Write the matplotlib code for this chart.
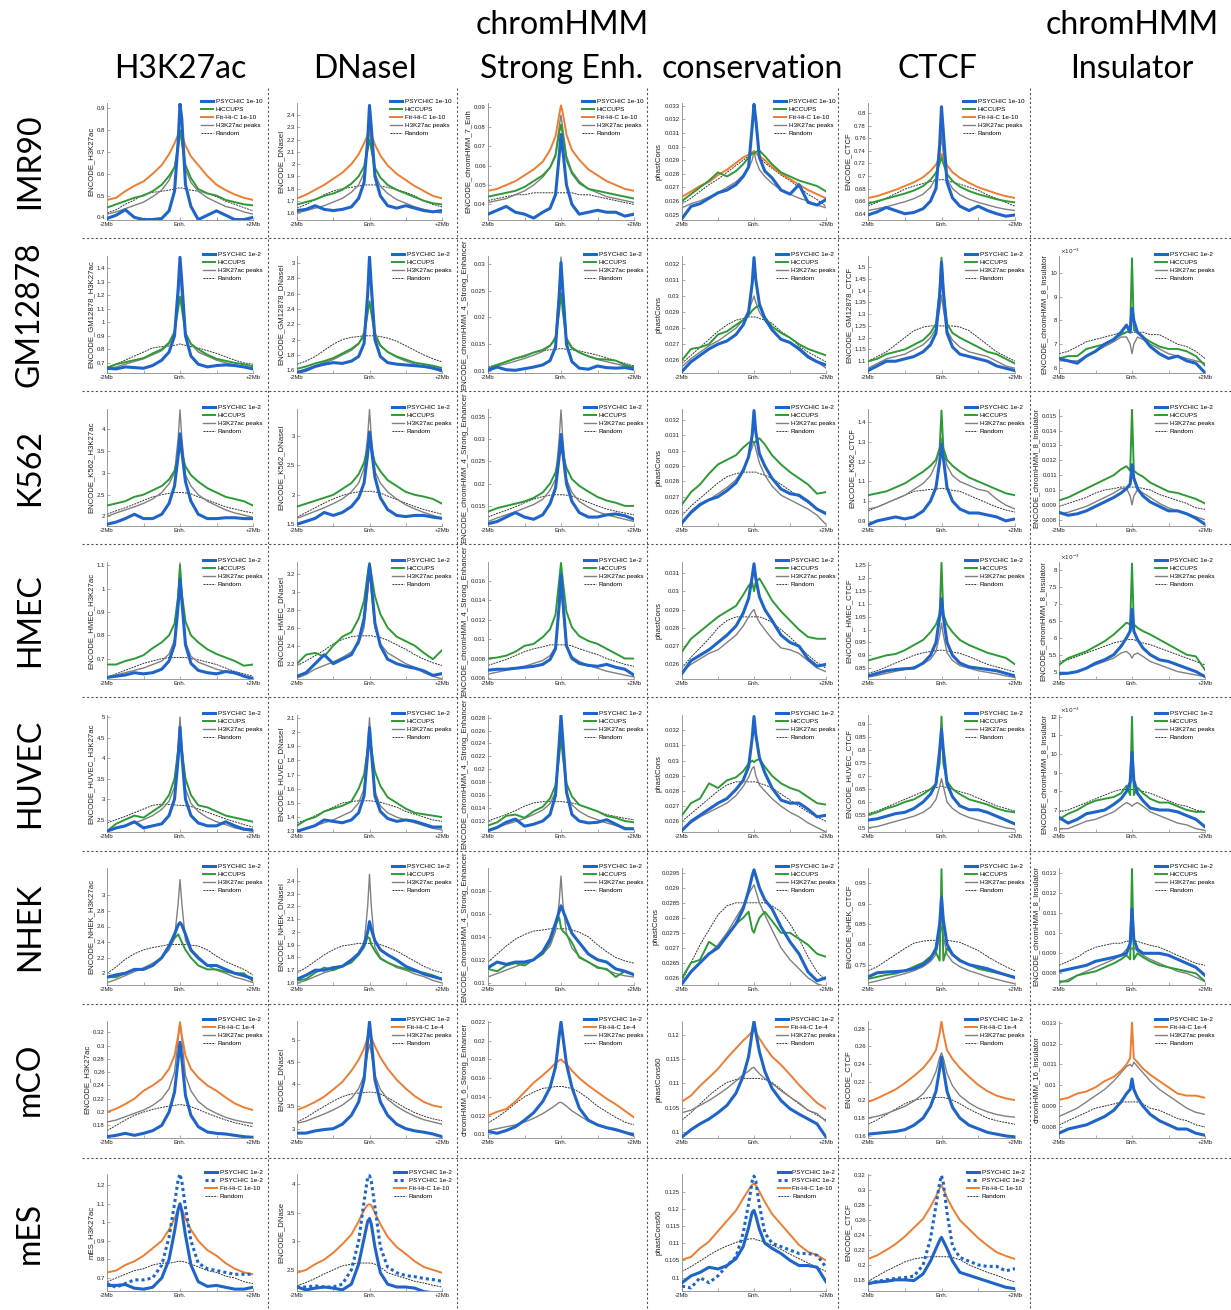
import matplotlib
matplotlib.use("Agg")
import matplotlib.pyplot as plt
from matplotlib.lines import Line2D
from matplotlib.transforms import Bbox, TransformedBbox

plt.rcParams['font.family'] = ['Liberation Sans', 'DejaVu Sans']
plt.rcParams['axes.unicode_minus'] = False

# ---------------- data ----------------
X_MB = [-2, -1.75, -1.5, -1.25, -1, -0.75, -0.5, -0.3, -0.15, -0.05, 0,
        0.05, 0.15, 0.3, 0.5, 0.75, 1, 1.25, 1.5, 1.75, 2]
XTICKS = [-2, -1, 0, 1, 2]
XTICK_LABELS = ['-2Mb', '', 'Enh.', '', '+2Mb']

COL_TITLES = [['H3K27ac'], ['DNaseI'], ['chromHMM', 'Strong Enh.'],
              ['conservation'], ['CTCF'], ['chromHMM', 'Insulator']]
ROW_NAMES = ['IMR90', 'GM12878', 'K562', 'HMEC', 'HUVEC', 'NHEK', 'mCO', 'mES']

NAMES_IMR90 = {'psy': 'PSYCHIC 1e-10', 'hic': 'HiCCUPS', 'fit': 'Fit-Hi-C 1e-10',
               'h3k': 'H3K27ac peaks', 'rnd': 'Random'}
NAMES_HUMAN = {'psy': 'PSYCHIC 1e-2', 'hic': 'HiCCUPS', 'h3k': 'H3K27ac peaks', 'rnd': 'Random'}
NAMES_MCO = {'psy': 'PSYCHIC 1e-2', 'fit': 'Fit-Hi-C 1e-4', 'h3k': 'H3K27ac peaks', 'rnd': 'Random'}
NAMES_MES = {'psy': 'PSYCHIC 1e-2', 'psy2': 'PSYCHIC 1e-2', 'fit': 'Fit-Hi-C 1e-10', 'rnd': 'Random'}
ROW_LEGEND = [NAMES_IMR90, NAMES_HUMAN, NAMES_HUMAN, NAMES_HUMAN, NAMES_HUMAN,
              NAMES_HUMAN, NAMES_MCO, NAMES_MES]

# IMR90
imr90_h3k27ac_psy = [0.395,0.41,0.435,0.40,0.39,0.39,0.395,0.43,0.52,0.75,0.92,0.85,0.55,0.45,0.39,0.41,0.43,0.41,0.39,0.39,0.40]
imr90_h3k27ac_hic = [0.445,0.46,0.475,0.49,0.50,0.52,0.55,0.59,0.63,0.72,0.80,0.75,0.64,0.58,0.53,0.51,0.50,0.48,0.47,0.46,0.455]
imr90_h3k27ac_fit = [0.48,0.49,0.52,0.545,0.565,0.60,0.64,0.69,0.74,0.78,0.79,0.78,0.73,0.68,0.64,0.59,0.55,0.525,0.505,0.49,0.48]
imr90_h3k27ac_h3k = [0.415,0.425,0.44,0.455,0.47,0.495,0.525,0.57,0.63,0.74,0.80,0.74,0.62,0.56,0.52,0.49,0.47,0.45,0.44,0.425,0.415]
imr90_h3k27ac_rnd = [0.42,0.435,0.46,0.48,0.505,0.515,0.52,0.525,0.53,0.535,0.535,0.535,0.53,0.525,0.52,0.51,0.495,0.475,0.46,0.445,0.43]

imr90_dnase_psy = [1.62,1.63,1.66,1.63,1.62,1.63,1.65,1.72,1.85,2.2,2.48,2.3,1.9,1.74,1.66,1.64,1.66,1.64,1.62,1.61,1.62]
imr90_dnase_hic = [1.67,1.69,1.71,1.74,1.76,1.79,1.84,1.9,1.98,2.12,2.2,2.12,1.97,1.89,1.83,1.79,1.76,1.73,1.7,1.68,1.67]
imr90_dnase_fit = [1.72,1.75,1.79,1.83,1.88,1.93,2.0,2.08,2.17,2.24,2.27,2.24,2.16,2.07,1.99,1.92,1.87,1.82,1.78,1.74,1.72]
imr90_dnase_h3k = [1.6,1.62,1.64,1.66,1.69,1.72,1.77,1.83,1.93,2.15,2.3,2.15,1.92,1.82,1.76,1.71,1.68,1.65,1.63,1.61,1.6]
imr90_dnase_rnd = [1.64,1.67,1.71,1.75,1.78,1.8,1.81,1.82,1.83,1.83,1.83,1.83,1.83,1.82,1.81,1.79,1.77,1.74,1.7,1.67,1.65]

imr90_enh_psy = [0.035,0.037,0.039,0.036,0.035,0.033,0.036,0.038,0.045,0.065,0.076,0.068,0.05,0.04,0.035,0.036,0.037,0.036,0.036,0.034,0.035]
imr90_enh_hic = [0.044,0.045,0.046,0.047,0.049,0.052,0.055,0.059,0.065,0.077,0.081,0.076,0.063,0.056,0.051,0.048,0.047,0.046,0.045,0.044,0.043]
imr90_enh_fit = [0.047,0.048,0.05,0.052,0.055,0.058,0.062,0.068,0.075,0.086,0.091,0.087,0.076,0.068,0.063,0.058,0.055,0.052,0.05,0.048,0.047]
imr90_enh_h3k = [0.041,0.042,0.043,0.045,0.047,0.05,0.054,0.059,0.066,0.08,0.086,0.079,0.065,0.057,0.052,0.048,0.046,0.044,0.043,0.042,0.041]
imr90_enh_rnd = [0.042,0.043,0.044,0.045,0.045,0.046,0.046,0.046,0.046,0.046,0.046,0.046,0.046,0.046,0.045,0.045,0.044,0.043,0.042,0.041,0.04]

imr90_cons_psy = [0.0247,0.0256,0.0258,0.0262,0.0266,0.0268,0.0272,0.0278,0.0285,0.0315,0.0331,0.032,0.0292,0.0282,0.0277,0.0268,0.0265,0.0272,0.0259,0.0257,0.0261]
imr90_cons_hic = [0.026,0.0265,0.027,0.0275,0.0281,0.0278,0.0282,0.0287,0.0292,0.0295,0.0295,0.0296,0.0297,0.0293,0.0287,0.0281,0.0278,0.0275,0.0273,0.0271,0.0267]
imr90_cons_fit = [0.0263,0.0267,0.0271,0.0274,0.0279,0.0283,0.0288,0.0292,0.0294,0.0296,0.0296,0.0295,0.0293,0.029,0.0285,0.028,0.0276,0.0272,0.0268,0.0265,0.0262]
imr90_cons_h3k = [0.0255,0.0258,0.026,0.0263,0.0266,0.027,0.0274,0.0279,0.0284,0.029,0.0297,0.029,0.0283,0.0278,0.0273,0.0268,0.0265,0.0262,0.026,0.0257,0.0255]
imr90_cons_rnd = [0.0258,0.0262,0.0267,0.0272,0.0276,0.0281,0.0286,0.029,0.0293,0.0296,0.0297,0.0295,0.0292,0.0288,0.0284,0.0279,0.0275,0.027,0.0265,0.0261,0.0256]

imr90_ctcf_psy = [0.638,0.643,0.65,0.645,0.64,0.642,0.648,0.66,0.68,0.75,0.81,0.77,0.69,0.665,0.652,0.645,0.652,0.645,0.64,0.636,0.638]
imr90_ctcf_hic = [0.656,0.66,0.664,0.668,0.672,0.677,0.684,0.694,0.705,0.72,0.73,0.72,0.703,0.692,0.683,0.676,0.671,0.667,0.663,0.66,0.658]
imr90_ctcf_fit = [0.665,0.668,0.673,0.678,0.684,0.69,0.698,0.708,0.718,0.73,0.735,0.73,0.717,0.706,0.697,0.689,0.682,0.677,0.672,0.668,0.665]
imr90_ctcf_h3k = [0.645,0.648,0.651,0.655,0.659,0.664,0.671,0.682,0.697,0.735,0.765,0.735,0.695,0.68,0.67,0.663,0.658,0.654,0.65,0.647,0.645]
imr90_ctcf_rnd = [0.652,0.658,0.665,0.672,0.679,0.684,0.688,0.691,0.693,0.694,0.694,0.694,0.693,0.69,0.687,0.682,0.677,0.67,0.664,0.658,0.652]

# GM12878
gm_h3k27ac_psy = [0.66,0.655,0.67,0.665,0.66,0.68,0.72,0.78,0.9,1.25,1.48,1.3,0.9,0.75,0.69,0.67,0.68,0.685,0.68,0.67,0.655]
gm_h3k27ac_hic = [0.66,0.69,0.705,0.72,0.735,0.77,0.8,0.85,0.93,1.1,1.19,1.1,0.92,0.84,0.8,0.76,0.73,0.715,0.7,0.69,0.675]
gm_h3k27ac_h3k = [0.65,0.67,0.69,0.71,0.73,0.76,0.79,0.84,0.92,1.15,1.4,1.15,0.92,0.84,0.78,0.75,0.72,0.7,0.685,0.67,0.66]
gm_h3k27ac_rnd = [0.67,0.69,0.72,0.75,0.78,0.81,0.82,0.825,0.83,0.835,0.84,0.835,0.83,0.82,0.81,0.79,0.77,0.745,0.72,0.7,0.69]

gm_dnase_psy = [1.57,1.6,1.65,1.68,1.7,1.69,1.72,1.78,1.95,2.6,3.08,2.7,2.0,1.78,1.7,1.68,1.67,1.66,1.65,1.63,1.6]
gm_dnase_hic = [1.62,1.65,1.69,1.72,1.76,1.82,1.88,1.95,2.05,2.35,2.5,2.35,2.05,1.92,1.84,1.78,1.74,1.7,1.68,1.66,1.63]
gm_dnase_h3k = [1.58,1.62,1.66,1.7,1.74,1.8,1.86,1.94,2.1,2.6,2.95,2.6,2.1,1.93,1.84,1.77,1.72,1.68,1.65,1.62,1.58]
gm_dnase_rnd = [1.68,1.72,1.78,1.86,1.94,2.0,2.03,2.04,2.05,2.05,2.05,2.05,2.05,2.04,2.02,1.98,1.92,1.86,1.8,1.75,1.71]

gm_enh_psy = [0.0102,0.0108,0.0103,0.0102,0.0105,0.0108,0.0112,0.012,0.0145,0.024,0.0302,0.025,0.015,0.0118,0.0106,0.0104,0.011,0.0107,0.0106,0.0107,0.0104]
gm_enh_hic = [0.0105,0.0112,0.0118,0.0124,0.0128,0.0135,0.014,0.0148,0.016,0.021,0.0245,0.021,0.0158,0.0143,0.0135,0.0128,0.0123,0.0122,0.012,0.0112,0.0108]
gm_enh_h3k = [0.0104,0.011,0.0114,0.0119,0.0124,0.013,0.0137,0.0147,0.0165,0.025,0.0312,0.025,0.0163,0.0145,0.0136,0.0128,0.0122,0.0118,0.0114,0.011,0.0106]
gm_enh_rnd = [0.0108,0.0113,0.0118,0.0124,0.013,0.0135,0.0138,0.014,0.0141,0.0142,0.0142,0.0142,0.0141,0.014,0.0138,0.0134,0.013,0.0125,0.012,0.0115,0.011]

gm_cons_psy = [0.0253,0.0259,0.0263,0.0267,0.027,0.0272,0.0276,0.0282,0.029,0.0308,0.0324,0.031,0.0295,0.0286,0.0279,0.0273,0.0271,0.0267,0.0262,0.0259,0.0257]
gm_cons_hic = [0.026,0.0267,0.0268,0.027,0.0276,0.0278,0.0282,0.0285,0.0288,0.0291,0.0292,0.0293,0.0294,0.0287,0.0281,0.0277,0.0274,0.027,0.0267,0.0265,0.0263]
gm_cons_h3k = [0.0256,0.0261,0.0265,0.0269,0.0272,0.0276,0.028,0.0285,0.0291,0.0297,0.03,0.0296,0.029,0.0285,0.0279,0.0273,0.0271,0.0268,0.0263,0.0259,0.0255]
gm_cons_rnd = [0.0258,0.0263,0.0268,0.0273,0.0278,0.0282,0.0285,0.0286,0.0287,0.0287,0.0287,0.0287,0.0286,0.0285,0.0283,0.0278,0.0274,0.0269,0.0265,0.0262,0.0259]

gm_ctcf_psy = [1.06,1.08,1.1,1.1,1.11,1.12,1.14,1.17,1.22,1.38,1.52,1.4,1.22,1.16,1.13,1.12,1.11,1.1,1.08,1.07,1.06]
gm_ctcf_hic = [1.1,1.11,1.13,1.14,1.15,1.17,1.19,1.22,1.26,1.4,1.54,1.4,1.26,1.22,1.2,1.18,1.16,1.14,1.13,1.11,1.09]
gm_ctcf_h3k = [1.07,1.09,1.11,1.12,1.13,1.15,1.17,1.2,1.24,1.32,1.38,1.32,1.23,1.19,1.16,1.14,1.13,1.12,1.1,1.08,1.07]
gm_ctcf_rnd = [1.1,1.12,1.14,1.17,1.2,1.23,1.245,1.25,1.25,1.25,1.25,1.25,1.25,1.25,1.245,1.23,1.2,1.17,1.14,1.12,1.1]

# values in units of 1e-3
gm_ins_psy = [6.4,6.3,6.2,6.5,6.7,7.0,7.2,7.5,7.8,7.5,8.5,8.0,7.5,7.3,6.9,6.6,6.4,6.5,6.3,6.2,5.8]
gm_ins_hic = [6.4,6.5,6.5,6.8,6.9,7.0,7.2,7.4,7.5,7.6,10.6,7.6,7.5,7.3,7.1,6.9,6.8,6.8,6.7,6.5,6.1]
gm_ins_h3k = [6.3,6.3,6.3,6.5,6.7,6.9,7.1,7.3,7.3,7.0,6.6,7.0,7.3,7.2,7.0,6.8,6.6,6.5,6.4,6.3,6.2]
gm_ins_rnd = [6.6,6.7,6.9,7.1,7.2,7.3,7.4,7.5,7.5,7.5,7.5,7.5,7.5,7.5,7.4,7.4,7.2,7.0,6.9,6.7,6.4]

# K562
k562_h3k27ac_psy = [1.82,1.87,1.95,2.05,1.95,1.95,2.05,2.3,2.7,3.4,3.9,3.5,2.8,2.35,2.05,1.95,1.95,1.97,1.97,1.95,1.95]
k562_h3k27ac_hic = [2.25,2.3,2.35,2.45,2.5,2.6,2.7,2.85,3.05,3.4,3.6,3.45,3.15,2.95,2.8,2.65,2.55,2.45,2.4,2.35,2.25]
k562_h3k27ac_h3k = [2.0,2.08,2.15,2.22,2.3,2.4,2.55,2.75,3.0,3.8,4.45,3.8,2.95,2.7,2.5,2.35,2.25,2.15,2.08,2.03,1.98]
k562_h3k27ac_rnd = [2.05,2.13,2.2,2.28,2.37,2.45,2.5,2.53,2.55,2.55,2.55,2.55,2.54,2.52,2.45,2.38,2.3,2.22,2.17,2.12,2.08]

k562_dnase_psy = [1.5,1.55,1.6,1.7,1.65,1.7,1.8,1.95,2.2,2.7,3.07,2.8,2.3,1.95,1.75,1.65,1.63,1.65,1.65,1.62,1.6]
k562_dnase_hic = [1.8,1.85,1.9,1.95,2.0,2.1,2.2,2.35,2.55,2.8,2.9,2.8,2.55,2.4,2.25,2.15,2.05,2.0,1.97,1.93,1.85]
k562_dnase_h3k = [1.6,1.66,1.72,1.78,1.85,1.93,2.05,2.2,2.45,3.0,3.45,3.0,2.4,2.2,2.05,1.93,1.83,1.76,1.7,1.65,1.6]
k562_dnase_rnd = [1.62,1.7,1.78,1.86,1.93,1.99,2.03,2.05,2.06,2.06,2.06,2.06,2.05,2.03,1.98,1.92,1.86,1.8,1.75,1.71,1.67]

k562_enh_psy = [0.011,0.0115,0.0125,0.0135,0.0125,0.012,0.013,0.0155,0.019,0.026,0.031,0.027,0.02,0.016,0.0135,0.0125,0.0125,0.013,0.0132,0.0128,0.012]
k562_enh_hic = [0.0137,0.0145,0.015,0.0155,0.016,0.0168,0.018,0.02,0.0225,0.0265,0.0275,0.0265,0.0235,0.021,0.0195,0.0182,0.017,0.0162,0.0157,0.015,0.015]
k562_enh_h3k = [0.0115,0.0123,0.013,0.0137,0.0145,0.0153,0.0165,0.0185,0.021,0.03,0.0365,0.03,0.021,0.018,0.016,0.0147,0.0137,0.013,0.0125,0.012,0.0115]
k562_enh_rnd = [0.0125,0.0133,0.014,0.0148,0.0157,0.0165,0.0171,0.0174,0.0175,0.0175,0.0175,0.0175,0.0174,0.0172,0.0166,0.0158,0.015,0.0143,0.0138,0.0134,0.013]

k562_cons_psy = [0.0253,0.026,0.0265,0.0268,0.027,0.0274,0.0279,0.0287,0.0296,0.031,0.0326,0.0312,0.0298,0.029,0.0282,0.0275,0.0272,0.0271,0.0267,0.0262,0.0259]
k562_cons_hic = [0.0265,0.0273,0.0278,0.0285,0.0291,0.0294,0.0297,0.0302,0.0305,0.0306,0.0305,0.0306,0.0308,0.0304,0.0297,0.0291,0.0286,0.0282,0.0278,0.0272,0.0273]
k562_cons_h3k = [0.0254,0.0259,0.0264,0.0268,0.0272,0.0276,0.0281,0.0288,0.0296,0.0302,0.0306,0.0301,0.0292,0.0284,0.0277,0.0271,0.0268,0.0265,0.0262,0.0258,0.0252]
k562_cons_rnd = [0.0258,0.0264,0.0269,0.0274,0.0279,0.0283,0.0285,0.0286,0.0286,0.0286,0.0286,0.0286,0.0285,0.0284,0.0282,0.0278,0.0274,0.027,0.0266,0.0262,0.026]

k562_ctcf_psy = [0.88,0.9,0.91,0.92,0.91,0.92,0.95,1.0,1.07,1.2,1.29,1.22,1.07,1.0,0.96,0.94,0.94,0.93,0.92,0.9,0.91]
k562_ctcf_hic = [1.03,1.04,1.05,1.07,1.09,1.12,1.15,1.18,1.21,1.27,1.46,1.27,1.21,1.18,1.15,1.12,1.1,1.08,1.06,1.04,1.03]
k562_ctcf_h3k = [0.96,0.97,0.99,1.01,1.03,1.06,1.09,1.13,1.19,1.27,1.32,1.27,1.18,1.13,1.1,1.08,1.06,1.05,1.01,0.98,0.96]
k562_ctcf_rnd = [0.95,0.97,0.99,1.01,1.03,1.05,1.055,1.06,1.06,1.065,1.065,1.065,1.06,1.055,1.05,1.03,1.01,0.99,0.97,0.955,0.945]

k562_ins_psy = [0.0085,0.0083,0.0084,0.0086,0.0089,0.0092,0.0095,0.0098,0.0101,0.0104,0.0117,0.0108,0.0101,0.0096,0.0092,0.0089,0.0086,0.0086,0.0084,0.0081,0.0077]
k562_ins_hic = [0.0093,0.0095,0.0098,0.0101,0.0104,0.0107,0.011,0.0114,0.0116,0.0113,0.0154,0.0113,0.0111,0.0109,0.0105,0.0102,0.0099,0.0098,0.0096,0.0094,0.0091]
k562_ins_h3k = [0.0084,0.0085,0.0087,0.0089,0.0092,0.0095,0.0098,0.0101,0.0101,0.0096,0.009,0.0096,0.01,0.0098,0.0095,0.0091,0.0088,0.0086,0.0084,0.0082,0.008]
k562_ins_rnd = [0.0089,0.0091,0.0093,0.0095,0.0098,0.01,0.0101,0.0102,0.0102,0.0102,0.0102,0.0102,0.0102,0.0101,0.01,0.0097,0.0095,0.0093,0.0091,0.0088,0.0087]

# HMEC
hmec_h3k27ac_psy = [0.62,0.625,0.63,0.64,0.635,0.64,0.655,0.69,0.76,0.93,1.04,0.95,0.76,0.68,0.65,0.64,0.635,0.645,0.64,0.625,0.615]
hmec_h3k27ac_hic = [0.675,0.675,0.69,0.7,0.715,0.745,0.77,0.8,0.85,0.97,1.1,0.98,0.86,0.8,0.77,0.74,0.72,0.705,0.69,0.67,0.675]
hmec_h3k27ac_h3k = [0.62,0.63,0.64,0.65,0.66,0.675,0.69,0.72,0.78,0.97,1.11,0.96,0.77,0.71,0.685,0.67,0.655,0.645,0.635,0.625,0.615]
hmec_h3k27ac_rnd = [0.62,0.635,0.65,0.665,0.68,0.69,0.7,0.705,0.705,0.705,0.705,0.705,0.705,0.7,0.695,0.685,0.675,0.66,0.645,0.635,0.625]

hmec_dnase_psy = [2.06,2.1,2.2,2.3,2.2,2.25,2.3,2.45,2.7,3.1,3.3,3.1,2.65,2.4,2.25,2.2,2.17,2.15,2.12,2.07,2.09]
hmec_dnase_hic = [2.2,2.3,2.32,2.28,2.4,2.5,2.55,2.7,2.9,3.2,3.32,3.2,2.95,2.75,2.6,2.5,2.45,2.4,2.32,2.25,2.35]
hmec_dnase_h3k = [2.04,2.08,2.14,2.18,2.22,2.27,2.33,2.42,2.6,3.0,3.25,3.0,2.6,2.42,2.32,2.26,2.2,2.16,2.1,2.06,2.03]
hmec_dnase_rnd = [2.18,2.23,2.29,2.35,2.42,2.47,2.5,2.51,2.51,2.51,2.51,2.51,2.5,2.49,2.46,2.41,2.36,2.3,2.25,2.21,2.18]

hmec_enh_psy = [0.0068,0.0069,0.0069,0.007,0.0071,0.0072,0.0074,0.0079,0.009,0.0135,0.0166,0.014,0.0093,0.008,0.0075,0.0073,0.0072,0.0074,0.0071,0.0069,0.0063]
hmec_enh_hic = [0.008,0.0081,0.0083,0.0087,0.0093,0.0095,0.0102,0.011,0.0125,0.016,0.0178,0.016,0.0128,0.0112,0.0103,0.0098,0.0095,0.009,0.0085,0.008,0.008]
hmec_enh_h3k = [0.0064,0.0066,0.0068,0.007,0.0072,0.0075,0.0078,0.0083,0.0092,0.013,0.0165,0.013,0.0092,0.0082,0.0077,0.0073,0.007,0.0067,0.0065,0.0063,0.0061]
hmec_enh_rnd = [0.0073,0.0076,0.0079,0.0083,0.0087,0.009,0.0092,0.0094,0.0094,0.0094,0.0094,0.0094,0.0094,0.0093,0.009,0.0087,0.0084,0.008,0.0077,0.0074,0.0072]

hmec_cons_psy = [0.0255,0.0262,0.0265,0.0268,0.0272,0.0276,0.0281,0.0288,0.0296,0.0308,0.0315,0.0307,0.0297,0.029,0.0284,0.0276,0.0272,0.027,0.0263,0.0259,0.026]
hmec_cons_hic = [0.0267,0.0274,0.0278,0.0282,0.0286,0.0289,0.0292,0.0298,0.0303,0.0305,0.03,0.0305,0.0307,0.0302,0.0295,0.0289,0.0284,0.0279,0.0275,0.0274,0.0274]
hmec_cons_h3k = [0.0256,0.026,0.0263,0.0266,0.0268,0.0272,0.0276,0.0281,0.0286,0.0289,0.029,0.0287,0.0283,0.0279,0.0274,0.0269,0.0268,0.0266,0.0262,0.0258,0.0256]
hmec_cons_rnd = [0.0258,0.0264,0.0269,0.0274,0.028,0.0284,0.0286,0.0286,0.0286,0.0286,0.0286,0.0286,0.0286,0.0285,0.0283,0.0279,0.0275,0.027,0.0265,0.0261,0.0258]

hmec_ctcf_psy = [0.82,0.83,0.84,0.845,0.848,0.85,0.87,0.9,0.95,1.05,1.12,1.05,0.95,0.9,0.87,0.855,0.85,0.845,0.84,0.83,0.82]
hmec_ctcf_hic = [0.88,0.89,0.9,0.905,0.92,0.94,0.96,0.99,1.02,1.06,1.26,1.06,1.02,0.99,0.96,0.94,0.925,0.91,0.9,0.89,0.865]
hmec_ctcf_h3k = [0.815,0.822,0.83,0.838,0.845,0.855,0.867,0.885,0.915,0.98,1.025,0.98,0.91,0.88,0.86,0.85,0.84,0.834,0.828,0.82,0.814]
hmec_ctcf_rnd = [0.83,0.84,0.855,0.87,0.885,0.9,0.91,0.915,0.918,0.92,0.92,0.92,0.917,0.913,0.908,0.895,0.88,0.865,0.855,0.845,0.835]

# values in units of 1e-3
hmec_ins_psy = [4.95,4.95,5.0,5.1,5.25,5.35,5.5,5.75,6.0,6.2,6.85,6.2,5.95,5.7,5.5,5.35,5.3,5.2,5.1,5.0,4.85]
hmec_ins_hic = [5.2,5.4,5.5,5.6,5.75,5.9,6.1,6.3,6.45,6.4,8.2,6.4,6.3,6.2,6.1,5.95,5.8,5.65,5.5,5.45,5.05]
hmec_ins_h3k = [4.9,4.95,5.0,5.1,5.2,5.3,5.4,5.55,5.6,5.5,5.4,5.5,5.55,5.45,5.3,5.2,5.1,5.0,4.95,4.9,4.85]
hmec_ins_rnd = [5.3,5.35,5.45,5.55,5.65,5.75,5.85,5.9,5.95,5.95,5.95,5.95,5.9,5.85,5.8,5.7,5.6,5.5,5.4,5.3,5.2]

# HUVEC
huvec_h3k27ac_psy = [2.22,2.3,2.35,2.45,2.3,2.35,2.4,2.6,3.0,4.0,4.75,4.1,3.0,2.6,2.42,2.35,2.35,2.45,2.35,2.27,2.25]
huvec_h3k27ac_hic = [2.22,2.4,2.5,2.6,2.55,2.7,2.85,3.1,3.5,4.2,4.6,4.2,3.5,3.1,2.85,2.8,2.7,2.6,2.55,2.5,2.45]
huvec_h3k27ac_h3k = [2.22,2.28,2.35,2.42,2.5,2.6,2.75,2.95,3.3,4.3,5.0,4.3,3.25,2.9,2.7,2.55,2.45,2.38,2.3,2.25,2.22]
huvec_h3k27ac_rnd = [2.42,2.5,2.58,2.67,2.76,2.85,2.88,2.87,2.86,2.85,2.85,2.85,2.84,2.82,2.76,2.68,2.6,2.52,2.45,2.38,2.32]

huvec_dnase_psy = [1.3,1.32,1.34,1.38,1.37,1.36,1.38,1.43,1.55,1.85,2.03,1.87,1.55,1.44,1.39,1.37,1.38,1.37,1.35,1.33,1.33]
huvec_dnase_hic = [1.34,1.38,1.4,1.44,1.46,1.48,1.51,1.6,1.7,1.88,1.95,1.88,1.72,1.62,1.54,1.5,1.46,1.43,1.42,1.41,1.4]
huvec_dnase_h3k = [1.3,1.32,1.34,1.36,1.38,1.41,1.44,1.5,1.6,1.9,2.1,1.9,1.58,1.48,1.43,1.4,1.38,1.36,1.34,1.32,1.31]
huvec_dnase_rnd = [1.36,1.38,1.41,1.44,1.47,1.5,1.51,1.515,1.515,1.515,1.515,1.515,1.51,1.505,1.49,1.47,1.44,1.42,1.4,1.38,1.37]

huvec_enh_psy = [0.0105,0.011,0.0118,0.0123,0.0112,0.0115,0.012,0.013,0.016,0.024,0.0283,0.0245,0.0165,0.013,0.012,0.0117,0.0118,0.0122,0.0115,0.0108,0.0108]
huvec_enh_hic = [0.0113,0.0118,0.0128,0.013,0.0125,0.0135,0.0142,0.0155,0.0175,0.022,0.025,0.022,0.0178,0.0158,0.0145,0.014,0.0135,0.0128,0.0125,0.012,0.0118]
huvec_enh_h3k = [0.0106,0.011,0.0115,0.0119,0.0124,0.013,0.0137,0.0147,0.0165,0.023,0.0283,0.023,0.0163,0.0145,0.0135,0.0127,0.0122,0.0117,0.0113,0.011,0.0107]
huvec_enh_rnd = [0.012,0.0125,0.013,0.0136,0.0143,0.0148,0.015,0.015,0.015,0.015,0.015,0.015,0.0149,0.0148,0.0145,0.014,0.0135,0.013,0.0127,0.0124,0.0122]

huvec_cons_psy = [0.0254,0.026,0.0264,0.0268,0.0272,0.0275,0.0281,0.0287,0.0296,0.0315,0.0329,0.0317,0.0302,0.0292,0.0282,0.0274,0.0272,0.0272,0.0268,0.0263,0.0264]
huvec_cons_hic = [0.0264,0.0272,0.0275,0.0285,0.0282,0.0287,0.0289,0.0293,0.0298,0.03,0.0299,0.03,0.0301,0.0296,0.029,0.0285,0.0282,0.028,0.0276,0.0272,0.0271]
huvec_cons_h3k = [0.0255,0.0259,0.0263,0.0266,0.0269,0.0272,0.0277,0.0283,0.0289,0.0295,0.0296,0.029,0.0284,0.028,0.0275,0.027,0.0266,0.0263,0.0259,0.0256,0.0253]
huvec_cons_rnd = [0.026,0.0265,0.027,0.0275,0.028,0.0284,0.0286,0.0286,0.0286,0.0286,0.0286,0.0286,0.0285,0.0284,0.0282,0.0278,0.0274,0.027,0.0266,0.0263,0.026]

huvec_ctcf_psy = [0.53,0.535,0.545,0.555,0.56,0.575,0.6,0.63,0.67,0.8,0.88,0.8,0.67,0.62,0.585,0.57,0.57,0.56,0.545,0.53,0.515]
huvec_ctcf_hic = [0.55,0.56,0.575,0.585,0.6,0.61,0.63,0.65,0.67,0.75,0.93,0.75,0.68,0.65,0.63,0.61,0.6,0.59,0.575,0.565,0.56]
huvec_ctcf_h3k = [0.5,0.505,0.515,0.525,0.535,0.545,0.56,0.58,0.61,0.66,0.69,0.66,0.6,0.575,0.555,0.54,0.53,0.52,0.51,0.5,0.495]
huvec_ctcf_rnd = [0.555,0.565,0.58,0.595,0.61,0.625,0.64,0.65,0.655,0.66,0.66,0.66,0.655,0.65,0.64,0.63,0.615,0.6,0.585,0.575,0.565]

# values in units of 1e-3
huvec_ins_psy = [6.6,6.3,6.5,6.8,6.9,7.0,7.3,7.6,8.0,8.5,10.1,8.6,7.9,7.5,7.1,7.0,7.0,6.9,6.7,6.5,6.1]
huvec_ins_hic = [6.5,6.8,7.0,7.3,7.5,7.6,7.7,7.9,8.3,7.8,12.0,7.8,8.2,7.9,7.6,7.4,7.4,7.2,7.0,6.9,6.9]
huvec_ins_h3k = [6.0,6.0,6.2,6.4,6.5,6.7,6.9,7.2,7.4,7.3,7.2,7.3,7.4,7.2,6.9,6.7,6.5,6.3,6.2,6.0,5.9]
huvec_ins_rnd = [6.9,7.0,7.2,7.4,7.6,7.8,8.0,8.1,8.1,8.1,8.1,8.1,8.1,8.0,7.9,7.7,7.5,7.3,7.2,7.0,6.9]

# NHEK
nhek_h3k27ac_psy = [1.95,1.98,2.0,2.05,2.05,2.1,2.2,2.35,2.5,2.62,2.65,2.62,2.5,2.3,2.2,2.1,2.1,2.05,2.0,1.97,1.93]
nhek_h3k27ac_hic = [1.95,1.95,2.0,2.05,2.05,2.1,2.2,2.35,2.45,2.5,2.45,2.4,2.3,2.2,2.1,2.05,2.05,2.02,2.0,2.0,1.9]
nhek_h3k27ac_h3k = [1.88,1.92,1.97,2.02,2.07,2.13,2.2,2.3,2.45,2.9,3.2,2.9,2.42,2.28,2.18,2.1,2.04,2.0,1.95,1.92,1.88]
nhek_h3k27ac_rnd = [2.0,2.08,2.18,2.25,2.3,2.33,2.35,2.37,2.37,2.37,2.37,2.37,2.37,2.36,2.35,2.3,2.22,2.15,2.1,2.05,1.98]

nhek_dnase_psy = [1.63,1.66,1.7,1.7,1.72,1.73,1.78,1.83,1.9,2.0,2.08,2.02,1.93,1.86,1.82,1.78,1.73,1.7,1.67,1.65,1.63]
nhek_dnase_hic = [1.62,1.63,1.68,1.72,1.7,1.73,1.76,1.82,1.88,1.96,1.95,1.9,1.85,1.79,1.76,1.73,1.71,1.69,1.68,1.66,1.63]
nhek_dnase_h3k = [1.6,1.62,1.65,1.68,1.7,1.73,1.77,1.82,1.9,2.2,2.45,2.2,1.88,1.8,1.76,1.72,1.7,1.67,1.65,1.62,1.6]
nhek_dnase_rnd = [1.68,1.72,1.77,1.82,1.86,1.89,1.9,1.91,1.91,1.91,1.91,1.91,1.91,1.9,1.88,1.85,1.81,1.77,1.73,1.7,1.68]

nhek_enh_psy = [0.0113,0.0118,0.0116,0.0118,0.0118,0.012,0.0127,0.0138,0.0152,0.0162,0.0167,0.0163,0.0155,0.0143,0.0135,0.0125,0.012,0.0118,0.0112,0.011,0.0107]
nhek_enh_hic = [0.0112,0.011,0.0115,0.0117,0.0115,0.012,0.0125,0.0135,0.015,0.0157,0.0148,0.0145,0.0142,0.0135,0.0122,0.0118,0.0113,0.0112,0.0105,0.011,0.0107]
nhek_enh_h3k = [0.0105,0.0108,0.0111,0.0114,0.0117,0.012,0.0125,0.0132,0.0145,0.017,0.0193,0.017,0.0143,0.013,0.0123,0.0118,0.0114,0.0111,0.0108,0.0106,0.0105]
nhek_enh_rnd = [0.0118,0.0125,0.0132,0.0138,0.0142,0.0145,0.0146,0.0147,0.0147,0.0147,0.0147,0.0147,0.0147,0.0146,0.0144,0.014,0.0133,0.0127,0.0122,0.0119,0.0117]

nhek_cons_psy = [0.0258,0.0262,0.0265,0.0268,0.027,0.0274,0.0278,0.0283,0.0289,0.0294,0.0296,0.0294,0.029,0.0286,0.0283,0.0277,0.0272,0.0268,0.0262,0.0259,0.026]
nhek_cons_hic = [0.026,0.0265,0.0266,0.0272,0.027,0.0274,0.0278,0.028,0.0282,0.0276,0.0275,0.0277,0.028,0.0282,0.0279,0.0275,0.0275,0.0273,0.0271,0.0268,0.0267]
nhek_cons_h3k = [0.0258,0.0262,0.0265,0.0268,0.0271,0.0275,0.028,0.0284,0.0288,0.029,0.0291,0.0289,0.0285,0.0281,0.0276,0.027,0.0266,0.0263,0.026,0.0258,0.0257]
nhek_cons_rnd = [0.0259,0.0265,0.0271,0.0276,0.0281,0.0284,0.0285,0.0285,0.0285,0.0285,0.0285,0.0285,0.0285,0.0285,0.0284,0.0282,0.0278,0.0273,0.0267,0.0262,0.0259]

nhek_ctcf_psy = [0.72,0.73,0.732,0.733,0.735,0.74,0.75,0.765,0.79,0.85,0.915,0.86,0.8,0.775,0.76,0.75,0.745,0.74,0.732,0.725,0.718]
nhek_ctcf_hic = [0.715,0.72,0.725,0.728,0.735,0.745,0.755,0.77,0.78,0.76,0.985,0.76,0.79,0.775,0.762,0.75,0.74,0.735,0.73,0.725,0.72]
nhek_ctcf_h3k = [0.705,0.71,0.716,0.722,0.728,0.735,0.745,0.758,0.775,0.82,0.845,0.82,0.775,0.757,0.745,0.735,0.728,0.72,0.714,0.708,0.703]
nhek_ctcf_rnd = [0.735,0.745,0.76,0.775,0.79,0.803,0.808,0.81,0.81,0.81,0.81,0.81,0.81,0.808,0.805,0.795,0.785,0.77,0.757,0.745,0.735]

nhek_ins_psy = [0.0081,0.0082,0.0083,0.0084,0.0086,0.0087,0.0088,0.0089,0.009,0.0095,0.0112,0.0097,0.0092,0.009,0.009,0.009,0.0089,0.0087,0.0085,0.0083,0.0079]
nhek_ins_hic = [0.0076,0.0076,0.0079,0.008,0.0081,0.0083,0.0085,0.0087,0.0089,0.0087,0.0132,0.0087,0.009,0.0088,0.0086,0.0084,0.0083,0.0082,0.0081,0.008,0.0076]
nhek_ins_h3k = [0.0075,0.0077,0.0079,0.0081,0.0083,0.0085,0.0087,0.0089,0.0092,0.0093,0.0092,0.0093,0.0091,0.0089,0.0087,0.0085,0.0083,0.0081,0.008,0.0078,0.0076]
nhek_ins_rnd = [0.0084,0.0086,0.0088,0.0091,0.0093,0.0094,0.0095,0.0095,0.0096,0.0096,0.0096,0.0096,0.0096,0.0095,0.0094,0.0093,0.0091,0.0089,0.0087,0.0085,0.0084]

# mCO
mco_h3k27ac_psy = [0.163,0.165,0.168,0.165,0.168,0.172,0.18,0.2,0.23,0.28,0.305,0.28,0.225,0.195,0.178,0.17,0.168,0.167,0.165,0.163,0.162]
mco_h3k27ac_fit = [0.2,0.205,0.212,0.22,0.232,0.24,0.25,0.265,0.285,0.315,0.335,0.315,0.285,0.265,0.252,0.24,0.232,0.222,0.213,0.207,0.203]
mco_h3k27ac_h3k = [0.185,0.188,0.193,0.198,0.203,0.21,0.22,0.235,0.26,0.31,0.335,0.31,0.255,0.232,0.216,0.205,0.198,0.192,0.188,0.185,0.183]
mco_h3k27ac_rnd = [0.172,0.18,0.188,0.195,0.2,0.204,0.207,0.209,0.21,0.211,0.211,0.211,0.21,0.208,0.204,0.198,0.193,0.188,0.184,0.181,0.178]

mco_dnase_psy = [2.9,2.9,2.95,2.98,3.0,3.1,3.3,3.6,4.1,5.0,5.4,5.0,4.1,3.6,3.3,3.1,3.0,2.95,2.92,2.88,2.82]
mco_dnase_fit = [3.42,3.5,3.6,3.72,3.88,4.05,4.3,4.55,4.8,5.05,5.15,5.05,4.85,4.6,4.35,4.1,3.9,3.73,3.6,3.52,3.48]
mco_dnase_h3k = [3.12,3.17,3.25,3.33,3.42,3.53,3.68,3.9,4.2,4.7,4.9,4.7,4.2,3.88,3.66,3.5,3.38,3.28,3.2,3.15,3.1]
mco_dnase_rnd = [3.15,3.25,3.38,3.5,3.62,3.72,3.78,3.8,3.81,3.82,3.82,3.82,3.81,3.78,3.7,3.58,3.46,3.36,3.28,3.22,3.18]

mco_enh_psy = [0.0103,0.0101,0.0104,0.0108,0.0115,0.0123,0.0135,0.015,0.0172,0.0205,0.022,0.0205,0.0175,0.015,0.0128,0.0115,0.011,0.0107,0.0105,0.0102,0.0099]
mco_enh_fit = [0.012,0.0124,0.0127,0.0135,0.0145,0.0155,0.0163,0.017,0.0176,0.0179,0.018,0.0178,0.0175,0.0168,0.016,0.0152,0.0145,0.0138,0.0132,0.0125,0.0118]
mco_enh_h3k = [0.0104,0.0106,0.0108,0.011,0.0113,0.0117,0.0122,0.0127,0.0131,0.0134,0.0134,0.0133,0.013,0.0125,0.012,0.0114,0.011,0.0107,0.0104,0.0102,0.0101]
mco_enh_rnd = [0.0112,0.0118,0.0125,0.0133,0.014,0.0145,0.0149,0.015,0.0151,0.0151,0.0151,0.0151,0.015,0.0149,0.0145,0.0138,0.013,0.0124,0.0118,0.0113,0.011]

mco_cons_psy = [0.099,0.1005,0.1017,0.1027,0.104,0.1055,0.108,0.1115,0.1155,0.1205,0.1227,0.1205,0.1165,0.1125,0.109,0.1065,0.1048,0.1037,0.1027,0.1017,0.099]
mco_cons_fit = [0.1063,0.1075,0.1095,0.1112,0.113,0.1152,0.1172,0.1188,0.1198,0.1207,0.121,0.1205,0.1192,0.1175,0.1155,0.1138,0.1118,0.1097,0.1078,0.106,0.1048]
mco_cons_h3k = [0.104,0.1045,0.1055,0.1065,0.1077,0.109,0.1105,0.1118,0.1125,0.1132,0.1133,0.1128,0.112,0.111,0.11,0.1085,0.1072,0.106,0.1045,0.1038,0.1022]
mco_cons_rnd = [0.1025,0.104,0.1058,0.1075,0.109,0.1102,0.1108,0.111,0.111,0.111,0.111,0.111,0.111,0.1108,0.1102,0.1088,0.1072,0.1058,0.1045,0.1035,0.1025]

mco_ctcf_psy = [0.162,0.163,0.164,0.165,0.167,0.172,0.18,0.193,0.21,0.235,0.248,0.235,0.21,0.192,0.18,0.172,0.168,0.164,0.162,0.16,0.159]
mco_ctcf_fit = [0.198,0.202,0.207,0.212,0.219,0.227,0.236,0.246,0.256,0.275,0.288,0.275,0.256,0.246,0.236,0.226,0.217,0.21,0.205,0.202,0.2]
mco_ctcf_h3k = [0.18,0.182,0.185,0.189,0.193,0.199,0.207,0.218,0.232,0.248,0.253,0.247,0.23,0.216,0.205,0.197,0.191,0.187,0.184,0.182,0.181]
mco_ctcf_rnd = [0.173,0.178,0.184,0.19,0.196,0.2,0.202,0.203,0.203,0.203,0.203,0.203,0.202,0.2,0.196,0.19,0.185,0.18,0.177,0.175,0.173]

mco_ins_psy = [0.0077,0.0079,0.008,0.0081,0.0083,0.0085,0.0088,0.0092,0.0096,0.0098,0.0103,0.0098,0.0094,0.009,0.0086,0.0083,0.0081,0.0079,0.0079,0.0077,0.0076]
mco_ins_fit = [0.0093,0.0094,0.0096,0.0097,0.0099,0.0102,0.0104,0.0107,0.011,0.0113,0.013,0.0113,0.0111,0.0108,0.0105,0.0102,0.0099,0.0096,0.0095,0.0095,0.0094]
mco_ins_h3k = [0.0085,0.0087,0.0089,0.0092,0.0095,0.0098,0.0102,0.0106,0.0109,0.011,0.0109,0.0111,0.0109,0.0106,0.0102,0.0098,0.0095,0.0092,0.0089,0.0087,0.0086]
mco_ins_rnd = [0.0081,0.0083,0.0085,0.0087,0.0089,0.009,0.0091,0.0092,0.0092,0.0092,0.0092,0.0092,0.0092,0.0091,0.0089,0.0088,0.0086,0.0084,0.0083,0.0081,0.008]

# mES
mes_h3k27ac_psy = [0.66,0.66,0.665,0.645,0.64,0.65,0.7,0.8,0.95,1.07,1.1,1.06,0.93,0.77,0.68,0.655,0.66,0.65,0.64,0.64,0.65]
mes_h3k27ac_psy2 = [0.67,0.65,0.67,0.69,0.69,0.7,0.77,0.92,1.1,1.23,1.26,1.22,1.08,0.9,0.78,0.75,0.74,0.73,0.72,0.72,0.72]
mes_h3k27ac_fit = [0.73,0.74,0.77,0.79,0.82,0.86,0.9,0.96,1.02,1.07,1.09,1.07,1.02,0.96,0.9,0.85,0.82,0.78,0.75,0.73,0.72]
mes_h3k27ac_rnd = [0.68,0.7,0.72,0.74,0.75,0.77,0.78,0.78,0.785,0.79,0.79,0.79,0.785,0.775,0.76,0.74,0.73,0.71,0.7,0.68,0.67]

mes_dnase_psy = [2.2,2.15,2.18,2.2,2.18,2.15,2.25,2.6,3.05,3.35,3.4,3.3,2.9,2.45,2.25,2.2,2.2,2.18,2.12,2.1,2.07]
mes_dnase_psy2 = [2.2,2.2,2.22,2.2,2.2,2.25,2.5,3.0,3.7,4.12,4.15,4.05,3.6,2.9,2.55,2.45,2.4,2.38,2.35,2.33,2.3]
mes_dnase_fit = [2.45,2.5,2.6,2.68,2.8,2.95,3.12,3.35,3.55,3.64,3.65,3.63,3.5,3.3,3.08,2.9,2.78,2.65,2.55,2.5,2.45]
mes_dnase_rnd = [2.22,2.28,2.35,2.43,2.5,2.57,2.6,2.62,2.62,2.62,2.62,2.62,2.6,2.55,2.45,2.4,2.35,2.3,2.27,2.23,2.2]

mes_cons_psy = [0.0985,0.1005,0.1015,0.103,0.1025,0.1035,0.1055,0.109,0.1145,0.119,0.1195,0.118,0.114,0.11,0.1085,0.107,0.105,0.1035,0.1035,0.103,0.0988]
mes_cons_psy2 = [0.0975,0.097,0.1,0.0985,0.1005,0.1035,0.106,0.113,0.1215,0.128,0.1295,0.128,0.121,0.113,0.11,0.109,0.108,0.107,0.107,0.1065,0.103]
mes_cons_fit = [0.1052,0.106,0.1085,0.1105,0.1135,0.1165,0.1195,0.123,0.1255,0.127,0.1273,0.1268,0.125,0.122,0.1185,0.1155,0.1125,0.1095,0.1075,0.1065,0.105]
mes_cons_rnd = [0.1018,0.1032,0.1048,0.1065,0.108,0.1092,0.1102,0.1108,0.1112,0.1113,0.1113,0.111,0.1108,0.1103,0.1095,0.1082,0.1068,0.1055,0.1042,0.103,0.1018]

mes_ctcf_psy = [0.175,0.177,0.178,0.18,0.18,0.179,0.188,0.205,0.222,0.233,0.237,0.232,0.222,0.205,0.19,0.186,0.182,0.178,0.174,0.17,0.168]
mes_ctcf_psy2 = [0.175,0.178,0.18,0.182,0.183,0.185,0.2,0.235,0.28,0.31,0.32,0.31,0.27,0.225,0.21,0.205,0.2,0.198,0.198,0.192,0.195]
mes_ctcf_fit = [0.208,0.213,0.22,0.228,0.238,0.25,0.262,0.278,0.292,0.303,0.307,0.302,0.29,0.276,0.26,0.248,0.236,0.226,0.217,0.212,0.208]
mes_ctcf_rnd = [0.178,0.185,0.192,0.198,0.204,0.208,0.21,0.211,0.211,0.211,0.211,0.211,0.211,0.21,0.207,0.2,0.195,0.19,0.186,0.181,0.177]

ENH_HMM4 = 'ENCODE_chromHMM_4_Strong_Enhancer'
INS_HMM8 = 'ENCODE_chromHMM_8_Insulator'

# (row, col, ylabel, yticks, scaled_1e-3, series)
PANELS = [
    (0, 0, 'ENCODE_H3K27ac', [0.4, 0.5, 0.6, 0.7, 0.8, 0.9], False,
     [('psy', imr90_h3k27ac_psy), ('hic', imr90_h3k27ac_hic), ('fit', imr90_h3k27ac_fit), ('h3k', imr90_h3k27ac_h3k), ('rnd', imr90_h3k27ac_rnd)]),
    (0, 1, 'ENCODE_DNaseI', [1.6, 1.7, 1.8, 1.9, 2, 2.1, 2.2, 2.3, 2.4], False,
     [('psy', imr90_dnase_psy), ('hic', imr90_dnase_hic), ('fit', imr90_dnase_fit), ('h3k', imr90_dnase_h3k), ('rnd', imr90_dnase_rnd)]),
    (0, 2, 'ENCODE_chromHMM_7_Enh', [0.04, 0.05, 0.06, 0.07, 0.08, 0.09], False,
     [('psy', imr90_enh_psy), ('hic', imr90_enh_hic), ('fit', imr90_enh_fit), ('h3k', imr90_enh_h3k), ('rnd', imr90_enh_rnd)]),
    (0, 3, 'phastCons', [0.025, 0.026, 0.027, 0.028, 0.029, 0.03, 0.031, 0.032, 0.033], False,
     [('psy', imr90_cons_psy), ('hic', imr90_cons_hic), ('fit', imr90_cons_fit), ('h3k', imr90_cons_h3k), ('rnd', imr90_cons_rnd)]),
    (0, 4, 'ENCODE_CTCF', [0.64, 0.66, 0.68, 0.7, 0.72, 0.74, 0.76, 0.78, 0.8], False,
     [('psy', imr90_ctcf_psy), ('hic', imr90_ctcf_hic), ('fit', imr90_ctcf_fit), ('h3k', imr90_ctcf_h3k), ('rnd', imr90_ctcf_rnd)]),

    (1, 0, 'ENCODE_GM12878_H3K27ac', [0.7, 0.8, 0.9, 1, 1.1, 1.2, 1.3, 1.4], False,
     [('psy', gm_h3k27ac_psy), ('hic', gm_h3k27ac_hic), ('h3k', gm_h3k27ac_h3k), ('rnd', gm_h3k27ac_rnd)]),
    (1, 1, 'ENCODE_GM12878_DNaseI', [1.6, 1.8, 2, 2.2, 2.4, 2.6, 2.8, 3], False,
     [('psy', gm_dnase_psy), ('hic', gm_dnase_hic), ('h3k', gm_dnase_h3k), ('rnd', gm_dnase_rnd)]),
    (1, 2, ENH_HMM4, [0.01, 0.015, 0.02, 0.025, 0.03], False,
     [('psy', gm_enh_psy), ('hic', gm_enh_hic), ('h3k', gm_enh_h3k), ('rnd', gm_enh_rnd)]),
    (1, 3, 'phastCons', [0.026, 0.027, 0.028, 0.029, 0.03, 0.031, 0.032], False,
     [('psy', gm_cons_psy), ('hic', gm_cons_hic), ('h3k', gm_cons_h3k), ('rnd', gm_cons_rnd)]),
    (1, 4, 'ENCODE_GM12878_CTCF', [1.1, 1.15, 1.2, 1.25, 1.3, 1.35, 1.4, 1.45, 1.5], False,
     [('psy', gm_ctcf_psy), ('hic', gm_ctcf_hic), ('h3k', gm_ctcf_h3k), ('rnd', gm_ctcf_rnd)]),
    (1, 5, INS_HMM8, [6, 7, 8, 9, 10], True,
     [('psy', gm_ins_psy), ('hic', gm_ins_hic), ('h3k', gm_ins_h3k), ('rnd', gm_ins_rnd)]),

    (2, 0, 'ENCODE_K562_H3K27ac', [2, 2.5, 3, 3.5, 4], False,
     [('psy', k562_h3k27ac_psy), ('hic', k562_h3k27ac_hic), ('h3k', k562_h3k27ac_h3k), ('rnd', k562_h3k27ac_rnd)]),
    (2, 1, 'ENCODE_K562_DNaseI', [1.5, 2, 2.5, 3], False,
     [('psy', k562_dnase_psy), ('hic', k562_dnase_hic), ('h3k', k562_dnase_h3k), ('rnd', k562_dnase_rnd)]),
    (2, 2, ENH_HMM4, [0.015, 0.02, 0.025, 0.03, 0.035], False,
     [('psy', k562_enh_psy), ('hic', k562_enh_hic), ('h3k', k562_enh_h3k), ('rnd', k562_enh_rnd)]),
    (2, 3, 'phastCons', [0.026, 0.027, 0.028, 0.029, 0.03, 0.031, 0.032], False,
     [('psy', k562_cons_psy), ('hic', k562_cons_hic), ('h3k', k562_cons_h3k), ('rnd', k562_cons_rnd)]),
    (2, 4, 'ENCODE_K562_CTCF', [0.9, 1, 1.1, 1.2, 1.3, 1.4], False,
     [('psy', k562_ctcf_psy), ('hic', k562_ctcf_hic), ('h3k', k562_ctcf_h3k), ('rnd', k562_ctcf_rnd)]),
    (2, 5, INS_HMM8, [0.008, 0.009, 0.01, 0.011, 0.012, 0.013, 0.014, 0.015], False,
     [('psy', k562_ins_psy), ('hic', k562_ins_hic), ('h3k', k562_ins_h3k), ('rnd', k562_ins_rnd)]),

    (3, 0, 'ENCODE_HMEC_H3K27ac', [0.7, 0.8, 0.9, 1, 1.1], False,
     [('psy', hmec_h3k27ac_psy), ('hic', hmec_h3k27ac_hic), ('h3k', hmec_h3k27ac_h3k), ('rnd', hmec_h3k27ac_rnd)]),
    (3, 1, 'ENCODE_HMEC_DNaseI', [2.2, 2.4, 2.6, 2.8, 3, 3.2], False,
     [('psy', hmec_dnase_psy), ('hic', hmec_dnase_hic), ('h3k', hmec_dnase_h3k), ('rnd', hmec_dnase_rnd)]),
    (3, 2, ENH_HMM4, [0.006, 0.008, 0.01, 0.012, 0.014, 0.016], False,
     [('psy', hmec_enh_psy), ('hic', hmec_enh_hic), ('h3k', hmec_enh_h3k), ('rnd', hmec_enh_rnd)]),
    (3, 3, 'phastCons', [0.026, 0.027, 0.028, 0.029, 0.03, 0.031], False,
     [('psy', hmec_cons_psy), ('hic', hmec_cons_hic), ('h3k', hmec_cons_h3k), ('rnd', hmec_cons_rnd)]),
    (3, 4, 'ENCODE_HMEC_CTCF', [0.85, 0.9, 0.95, 1, 1.05, 1.1, 1.15, 1.2, 1.25], False,
     [('psy', hmec_ctcf_psy), ('hic', hmec_ctcf_hic), ('h3k', hmec_ctcf_h3k), ('rnd', hmec_ctcf_rnd)]),
    (3, 5, INS_HMM8, [5, 5.5, 6, 6.5, 7, 7.5, 8], True,
     [('psy', hmec_ins_psy), ('hic', hmec_ins_hic), ('h3k', hmec_ins_h3k), ('rnd', hmec_ins_rnd)]),

    (4, 0, 'ENCODE_HUVEC_H3K27ac', [2.5, 3, 3.5, 4, 4.5, 5], False,
     [('psy', huvec_h3k27ac_psy), ('hic', huvec_h3k27ac_hic), ('h3k', huvec_h3k27ac_h3k), ('rnd', huvec_h3k27ac_rnd)]),
    (4, 1, 'ENCODE_HUVEC_DNaseI', [1.3, 1.4, 1.5, 1.6, 1.7, 1.8, 1.9, 2, 2.1], False,
     [('psy', huvec_dnase_psy), ('hic', huvec_dnase_hic), ('h3k', huvec_dnase_h3k), ('rnd', huvec_dnase_rnd)]),
    (4, 2, ENH_HMM4, [0.012, 0.014, 0.016, 0.018, 0.02, 0.022, 0.024, 0.026, 0.028], False,
     [('psy', huvec_enh_psy), ('hic', huvec_enh_hic), ('h3k', huvec_enh_h3k), ('rnd', huvec_enh_rnd)]),
    (4, 3, 'phastCons', [0.026, 0.027, 0.028, 0.029, 0.03, 0.031, 0.032], False,
     [('psy', huvec_cons_psy), ('hic', huvec_cons_hic), ('h3k', huvec_cons_h3k), ('rnd', huvec_cons_rnd)]),
    (4, 4, 'ENCODE_HUVEC_CTCF', [0.5, 0.55, 0.6, 0.65, 0.7, 0.75, 0.8, 0.85, 0.9], False,
     [('psy', huvec_ctcf_psy), ('hic', huvec_ctcf_hic), ('h3k', huvec_ctcf_h3k), ('rnd', huvec_ctcf_rnd)]),
    (4, 5, INS_HMM8, [6, 7, 8, 9, 10, 11, 12], True,
     [('psy', huvec_ins_psy), ('hic', huvec_ins_hic), ('h3k', huvec_ins_h3k), ('rnd', huvec_ins_rnd)]),

    (5, 0, 'ENCODE_NHEK_H3K27ac', [2, 2.2, 2.4, 2.6, 2.8, 3], False,
     [('psy', nhek_h3k27ac_psy), ('hic', nhek_h3k27ac_hic), ('h3k', nhek_h3k27ac_h3k), ('rnd', nhek_h3k27ac_rnd)]),
    (5, 1, 'ENCODE_NHEK_DNaseI', [1.6, 1.7, 1.8, 1.9, 2, 2.1, 2.2, 2.3, 2.4], False,
     [('psy', nhek_dnase_psy), ('hic', nhek_dnase_hic), ('h3k', nhek_dnase_h3k), ('rnd', nhek_dnase_rnd)]),
    (5, 2, ENH_HMM4, [0.01, 0.012, 0.014, 0.016, 0.018], False,
     [('psy', nhek_enh_psy), ('hic', nhek_enh_hic), ('h3k', nhek_enh_h3k), ('rnd', nhek_enh_rnd)]),
    (5, 3, 'phastCons', [0.026, 0.0265, 0.027, 0.0275, 0.028, 0.0285, 0.029, 0.0295], False,
     [('psy', nhek_cons_psy), ('hic', nhek_cons_hic), ('h3k', nhek_cons_h3k), ('rnd', nhek_cons_rnd)]),
    (5, 4, 'ENCODE_NHEK_CTCF', [0.75, 0.8, 0.85, 0.9, 0.95], False,
     [('psy', nhek_ctcf_psy), ('hic', nhek_ctcf_hic), ('h3k', nhek_ctcf_h3k), ('rnd', nhek_ctcf_rnd)]),
    (5, 5, INS_HMM8, [0.008, 0.009, 0.01, 0.011, 0.012, 0.013], False,
     [('psy', nhek_ins_psy), ('hic', nhek_ins_hic), ('h3k', nhek_ins_h3k), ('rnd', nhek_ins_rnd)]),

    (6, 0, 'ENCODE_H3K27ac', [0.18, 0.2, 0.22, 0.24, 0.26, 0.28, 0.3, 0.32], False,
     [('psy', mco_h3k27ac_psy), ('fit', mco_h3k27ac_fit), ('h3k', mco_h3k27ac_h3k), ('rnd', mco_h3k27ac_rnd)]),
    (6, 1, 'ENCODE_DNaseI', [3, 3.5, 4, 4.5, 5], False,
     [('psy', mco_dnase_psy), ('fit', mco_dnase_fit), ('h3k', mco_dnase_h3k), ('rnd', mco_dnase_rnd)]),
    (6, 2, 'chromHMM_6_Strong_Enhancer', [0.01, 0.012, 0.014, 0.016, 0.018, 0.02, 0.022], False,
     [('psy', mco_enh_psy), ('fit', mco_enh_fit), ('h3k', mco_enh_h3k), ('rnd', mco_enh_rnd)]),
    (6, 3, 'phastCons60', [0.1, 0.105, 0.11, 0.115, 0.12], False,
     [('psy', mco_cons_psy), ('fit', mco_cons_fit), ('h3k', mco_cons_h3k), ('rnd', mco_cons_rnd)]),
    (6, 4, 'ENCODE_CTCF', [0.16, 0.18, 0.2, 0.22, 0.24, 0.26, 0.28], False,
     [('psy', mco_ctcf_psy), ('fit', mco_ctcf_fit), ('h3k', mco_ctcf_h3k), ('rnd', mco_ctcf_rnd)]),
    (6, 5, 'chromHMM_16_Insulator', [0.008, 0.009, 0.01, 0.011, 0.012, 0.013], False,
     [('psy', mco_ins_psy), ('fit', mco_ins_fit), ('h3k', mco_ins_h3k), ('rnd', mco_ins_rnd)]),

    (7, 0, 'mES_H3K27ac', [0.7, 0.8, 0.9, 1, 1.1, 1.2], False,
     [('psy', mes_h3k27ac_psy), ('psy2', mes_h3k27ac_psy2), ('fit', mes_h3k27ac_fit), ('rnd', mes_h3k27ac_rnd)]),
    (7, 1, 'ENCODE_DNase', [2.5, 3, 3.5, 4], False,
     [('psy', mes_dnase_psy), ('psy2', mes_dnase_psy2), ('fit', mes_dnase_fit), ('rnd', mes_dnase_rnd)]),
    (7, 3, 'phastCons60', [0.1, 0.105, 0.11, 0.115, 0.12, 0.125], False,
     [('psy', mes_cons_psy), ('psy2', mes_cons_psy2), ('fit', mes_cons_fit), ('rnd', mes_cons_rnd)]),
    (7, 4, 'ENCODE_CTCF', [0.18, 0.2, 0.22, 0.24, 0.26, 0.28, 0.3, 0.32], False,
     [('psy', mes_ctcf_psy), ('psy2', mes_ctcf_psy2), ('fit', mes_ctcf_fit), ('rnd', mes_ctcf_rnd)]),
]

# ---------------- layout / style ----------------
YLIMS = {
    (0, 0): (0.388, 0.925), (0, 1): (1.543, 2.5), (0, 2): (0.032, 0.0922),
    (0, 3): (0.0246, 0.0332), (0, 4): (0.630, 0.816),
    (1, 0): (0.625, 1.49), (1, 1): (1.565, 3.09), (1, 2): (0.0097, 0.0314),
    (1, 3): (0.0252, 0.0325), (1, 4): (1.05, 1.547), (1, 5): (5.79, 10.7),
    (2, 0): (1.78, 4.47), (2, 1): (1.47, 3.46), (2, 2): (0.0105, 0.0367),
    (2, 3): (0.0251, 0.0327), (2, 4): (0.874, 1.468), (2, 5): (0.00758, 0.01545),
    (3, 0): (0.613, 1.114), (3, 1): (2.03, 3.33), (3, 2): (0.0059, 0.0179),
    (3, 3): (0.0252, 0.0316), (3, 4): (0.808, 1.263), (3, 5): (4.78, 8.25),
    (4, 0): (2.2, 5.05), (4, 1): (1.295, 2.12), (4, 2): (0.0103, 0.0284),
    (4, 3): (0.0253, 0.033), (4, 4): (0.484, 0.936), (4, 5): (5.82, 12.1),
    (5, 0): (1.85, 3.35), (5, 1): (1.584, 2.5), (5, 2): (0.0098, 0.02),
    (5, 3): (0.02576, 0.02966), (5, 4): (0.70, 0.988), (5, 5): (0.00742, 0.01325),
    (6, 0): (0.161, 0.337), (6, 1): (2.79, 5.42), (6, 2): (0.0096, 0.0221),
    (6, 3): (0.0988, 0.1228), (6, 4): (0.1577, 0.2885), (6, 5): (0.00747, 0.01308),
    (7, 0): (0.63, 1.26), (7, 1): (2.13, 4.18), (7, 3): (0.0961, 0.1301),
    (7, 4): (0.165, 0.322),
}

W, H = 1231, 1310
AX_LEFT = [107, 297, 488, 682, 868, 1059]
AX_WIDTH = [146, 145, 146, 144, 147, 146]
AX_BOTTOM = [220, 373, 526, 679, 832, 985, 1138, 1291]
AX_HEIGHT = 117
COL_EDGES = [82, 268, 457, 647, 838, 1030, 1231]
ROW_EDGES = [88, 238, 391, 544, 697, 851, 1004, 1158, 1310]

BLUE = '#1f64c8'
STYLE = {
    'psy': dict(color=BLUE, lw=2.2, ls='-', zorder=6),
    'psy2': dict(color=BLUE, lw=2.2, ls=(0, (1, 1)), zorder=5),
    'hic': dict(color='#2e9a36', lw=1.4, ls='-', zorder=4),
    'fit': dict(color='#ee7d31', lw=1.4, ls='-', zorder=3),
    'h3k': dict(color='#808080', lw=1.0, ls='-', zorder=2),
    'rnd': dict(color='#333333', lw=0.7, ls=(0, (2, 1)), zorder=1),
}
ORDER = ['psy', 'psy2', 'hic', 'fit', 'h3k', 'rnd']

fig = plt.figure(figsize=(W / 100, H / 100), dpi=100)
fig.patch.set_facecolor('white')


def fx(px):
    return px / W


def fy(py):
    return 1 - py / H


for (r, c, ylabel, yticks, scaled, series) in PANELS:
    ax = fig.add_axes([fx(AX_LEFT[c]), fy(AX_BOTTOM[r]), AX_WIDTH[c] / W, AX_HEIGHT / H])
    names = ROW_LEGEND[r]
    handles = {}
    for key, ys in series:
        st = STYLE[key]
        ln, = ax.plot(X_MB, ys, color=st['color'], lw=st['lw'], ls=st['ls'],
                      zorder=st['zorder'], label=names[key], solid_joinstyle='round')
        handles[key] = ln
    ax.set_xlim(-2, 2)
    ax.set_ylim(*YLIMS[(r, c)])
    ax.set_xticks(XTICKS)
    ax.set_xticklabels(XTICK_LABELS)
    ax.set_yticks(yticks)
    ax.set_yticklabels([f'{v:g}' for v in yticks])
    for side in ('top', 'right'):
        ax.spines[side].set_visible(False)
    for side in ('left', 'bottom'):
        ax.spines[side].set_color('#8a8a8a')
        ax.spines[side].set_linewidth(0.6)
    ax.tick_params(direction='in', length=2, width=0.5, colors='#8a8a8a',
                   labelsize=4.3, labelcolor='#222222', pad=1.5)
    ax.set_ylabel(ylabel, fontsize=5.6, color='#222222', labelpad=1.5)
    cell = Bbox.from_extents(fx(COL_EDGES[c]), fy(ROW_EDGES[r + 1]),
                             fx(COL_EDGES[c + 1]), fy(ROW_EDGES[r]))
    ax.yaxis.label.set_clip_box(TransformedBbox(cell, fig.transFigure))
    ax.yaxis.label.set_clip_on(True)
    if scaled:
        ax.text(0.01, 1.0, r'$\times10^{-3}$', transform=ax.transAxes,
                fontsize=4.2, color='#222222', ha='left', va='bottom')
    hl = [handles[k] for k in ORDER if k in handles]
    ax.legend(handles=hl, labels=[h.get_label() for h in hl], loc='upper right',
              bbox_to_anchor=(1.065, 1.04), frameon=False, fontsize=4.6,
              handlelength=1.9, handletextpad=0.4, labelspacing=0.42,
              borderpad=0.0, borderaxespad=0.0)

# separators
SEP = dict(color='#555555', lw=0.8, ls=(0, (2, 2)))
for y in ROW_EDGES[1:-1]:
    fig.add_artist(Line2D([fx(82), fx(1231)], [fy(y), fy(y)], transform=fig.transFigure, **SEP))
for x in COL_EDGES[1:-1]:
    fig.add_artist(Line2D([fx(x), fx(x)], [fy(88), fy(1310)], transform=fig.transFigure, **SEP))

# column titles
TITLE_X = [180, 365, 562, 752, 937, 1132]
TITLE_FONT = ['Lato', 'DejaVu Sans']
for c, lines in enumerate(COL_TITLES):
    if len(lines) == 1:
        fig.text(fx(TITLE_X[c]), fy(78), lines[0], ha='center', va='baseline',
                 fontsize=23, family=TITLE_FONT)
    else:
        fig.text(fx(TITLE_X[c]), fy(34), lines[0], ha='center', va='baseline',
                 fontsize=23, family=TITLE_FONT)
        fig.text(fx(TITLE_X[c]), fy(78), lines[1], ha='center', va='baseline',
                 fontsize=23, family=TITLE_FONT)

# row labels
for r, name in enumerate(ROW_NAMES):
    yc = (AX_BOTTOM[r] - AX_HEIGHT / 2)
    fig.text(fx(30), fy(yc), name, ha='center', va='center', rotation=90,
             fontsize=23, family=TITLE_FONT)

fig.savefig('out.png', dpi=100, facecolor='white')
